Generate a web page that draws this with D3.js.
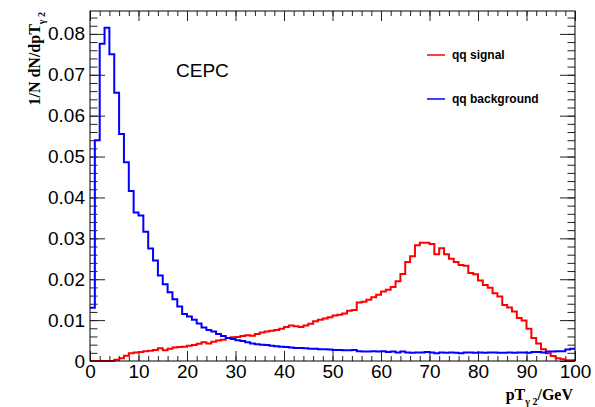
<!DOCTYPE html>
<html>
<head>
<meta charset="utf-8">
<script src="https://cdn.jsdelivr.net/npm/d3@7"></script>
<style>
  body { margin: 0; background: #fff; }
  .tick-label text { font-family: "Liberation Sans", Arial, sans-serif; font-size: 19px; fill: #000; }
  .axis-title { font-family: "Liberation Serif", "Times New Roman", serif; font-weight: bold; font-size: 16px; }
  .legend text { font-family: "Liberation Sans", Arial, sans-serif; font-weight: bold; font-size: 12px; }
</style>
</head>
<body>
<script>
// bin lower edges 0..99 (1 GeV bins)
const binEdges = d3.range(0, 101, 1);

const signalValues = [
  0, 0, 0, 0, 0, 0.0003, 0.0007, 0.0013, 0.0019, 0.0021,
  0.0022, 0.0024, 0.0025, 0.0027, 0.0031, 0.0026, 0.0030, 0.0033, 0.0034, 0.0035,
  0.0037, 0.0039, 0.0042, 0.0046, 0.0043, 0.0047, 0.0050, 0.0052, 0.0056, 0.0058,
  0.0059, 0.0061, 0.0063, 0.0062, 0.0066, 0.0070, 0.0072, 0.0074, 0.0076, 0.0079,
  0.0083, 0.0087, 0.0085, 0.0083, 0.0087, 0.0091, 0.0097, 0.0101, 0.0104, 0.0107,
  0.0111, 0.0113, 0.0116, 0.0123, 0.0125, 0.0143, 0.0145, 0.0150, 0.0156, 0.0162,
  0.0170, 0.0174, 0.0181, 0.0195, 0.0213, 0.0242, 0.0256, 0.0283, 0.0289, 0.0289,
  0.0286, 0.0261, 0.0276, 0.0261, 0.0250, 0.0242, 0.0235, 0.0233, 0.0215, 0.0212,
  0.0197, 0.0186, 0.0179, 0.0166, 0.0158, 0.0137, 0.0131, 0.0121, 0.0105, 0.0099,
  0.0079, 0.0056, 0.0043, 0.0029, 0.0019, 0.0012, 0.0007, 0.0004, 0.0002, 0.0002
];

const backgroundValues = [
  0.0130, 0.0540, 0.0776, 0.0815, 0.0750, 0.0656, 0.0555, 0.0486, 0.0416, 0.0363,
  0.0356, 0.0316, 0.0275, 0.0246, 0.0209, 0.0188, 0.0168, 0.0151, 0.0133, 0.0115,
  0.0109, 0.0101, 0.0092, 0.0082, 0.0076, 0.0072, 0.0066, 0.0061, 0.0056, 0.0054,
  0.0051, 0.0049, 0.0046, 0.0043, 0.0041, 0.0040, 0.0039, 0.0037, 0.0036, 0.0035,
  0.0034, 0.0033, 0.0032, 0.0032, 0.0031, 0.0030, 0.0030, 0.0029, 0.0029, 0.0028,
  0.0027, 0.0027, 0.0026, 0.0026, 0.0027, 0.0024, 0.0023, 0.0023, 0.0024, 0.0023,
  0.0024, 0.0022, 0.0023, 0.0021, 0.0023, 0.0021, 0.0020, 0.0021, 0.0021, 0.0022,
  0.0021, 0.0019, 0.0021, 0.0020, 0.0021, 0.0020, 0.0019, 0.0021, 0.0021, 0.0020,
  0.0021, 0.0020, 0.0021, 0.0021, 0.0020, 0.0020, 0.0021, 0.0020, 0.0021, 0.0021,
  0.0020, 0.0022, 0.0022, 0.0021, 0.0023, 0.0023, 0.0024, 0.0024, 0.0028, 0.0030
];

const xTicks = [0, 10, 20, 30, 40, 50, 60, 70, 80, 90, 100];
const yTicks = [0, 0.01, 0.02, 0.03, 0.04, 0.05, 0.06, 0.07, 0.08];
const seriesNames = ['qq signal', 'qq background'];
const seriesColors = ['#ff0000', '#0000ff'];

const margin = {
    top: 11,
    right: 20,
    bottom: 46,
    left: 90
};

const width = 595 - margin.left - margin.right;
const height = 407 - margin.top - margin.bottom;

const svg = d3.select('body').append('svg')
    .attr('width', width + margin.left + margin.right)
    .attr('height', height + margin.top + margin.bottom)
  .append('g')
    .attr('transform', `translate(${margin.left}, ${margin.top})`);

const x = d3.scaleLinear()
    .domain([0, 100])
    .range([0, width]);

const y = d3.scaleLinear()
    .domain([0, 0.0856])
    .range([height, 0]);

const xMinor = d3.range(0, 101, 2);
const yMinor = d3.range(0, 0.0856, 0.002);

// ticks, ROOT style: drawn inside the frame
function tickAxis(axis, values, size, transform) {
    svg.append('g')
        .attr('transform', transform || null)
        .call(axis.tickValues(values).tickSize(size).tickFormat(''))
        .call(g => g.select('.domain').remove())
        .selectAll('line')
        .attr('stroke', '#222')
        .attr('stroke-width', 1);
}

tickAxis(d3.axisBottom(x), xMinor, -5, `translate(0, ${height})`);
tickAxis(d3.axisBottom(x), xTicks, -10, `translate(0, ${height})`);
tickAxis(d3.axisTop(x), xMinor, -5);
tickAxis(d3.axisTop(x), xTicks, -10);
tickAxis(d3.axisLeft(y), yMinor, -7.5);
tickAxis(d3.axisLeft(y), yTicks, -15);
tickAxis(d3.axisRight(y), yMinor, -7.5, `translate(${width}, 0)`);
tickAxis(d3.axisRight(y), yTicks, -15, `translate(${width}, 0)`);

// tick labels
svg.append('g')
    .attr('class', 'tick-label')
    .attr('transform', `translate(0, ${height})`)
    .call(d3.axisBottom(x).tickValues(xTicks).tickSize(0).tickPadding(4).tickFormat(d3.format('d')))
    .call(g => g.select('.domain').remove())
    .selectAll('text')
    .attr('font-family', null)
    .attr('font-size', null);

svg.append('g')
    .attr('class', 'tick-label')
    .call(d3.axisLeft(y).tickValues(yTicks).tickSize(0).tickPadding(5)
        .tickFormat(d => d === 0 ? '0' : d3.format('.2f')(d)))
    .call(g => g.select('.domain').remove())
    .selectAll('text')
    .attr('font-family', null)
    .attr('font-size', null);

// histograms
const line = d3.line()
    .x(d => x(d[0]))
    .y(d => y(d[1]))
    .curve(d3.curveStepAfter);

[signalValues, backgroundValues].forEach((vals, i) => {
    const pts = vals.map((v, n) => [binEdges[n], v]);
    pts.push([binEdges[vals.length], vals[vals.length - 1]]);
    svg.append('path')
        .datum(pts)
        .attr('fill', 'none')
        .attr('stroke', seriesColors[i])
        .attr('stroke-width', 2)
        .attr('d', line);
});

// frame
svg.append('rect')
    .attr('width', width)
    .attr('height', height)
    .attr('fill', 'none')
    .attr('stroke', '#000')
    .attr('stroke-width', 1);

// axis titles
const xTitle = svg.append('text')
    .attr('class', 'axis-title')
    .attr('x', width - 2)
    .attr('y', height + 39)
    .attr('text-anchor', 'end');
xTitle.append('tspan').text('pT');
xTitle.append('tspan').attr('font-size', '10px').attr('dy', 5).text('γ 2');
xTitle.append('tspan').attr('dy', -5).text('/GeV');

const yTitle = svg.append('text')
    .attr('class', 'axis-title')
    .attr('transform', `translate(${40 - margin.left}, 1) rotate(-90)`)
    .attr('text-anchor', 'end');
yTitle.append('tspan').text('1/N dN/dpT');
yTitle.append('tspan').attr('font-size', '10px').attr('dy', 5).text('γ 2');

svg.append('text')
    .attr('x', 86)
    .attr('y', 66)
    .style('font-family', '"Liberation Sans", Arial, sans-serif')
    .style('font-size', '19px')
    .text('CEPC');

// legend
const legend = svg.append('g')
    .attr('class', 'legend');

seriesNames.forEach((name, i) => {
    const ly = 44 + i * 44;
    legend.append('line')
        .attr('x1', 337).attr('x2', 355)
        .attr('y1', ly).attr('y2', ly)
        .attr('stroke', seriesColors[i])
        .attr('stroke-width', 1.5);
    legend.append('text')
        .attr('x', 362)
        .attr('y', ly + 4)
        .text(name);
});
</script>
</body>
</html>
